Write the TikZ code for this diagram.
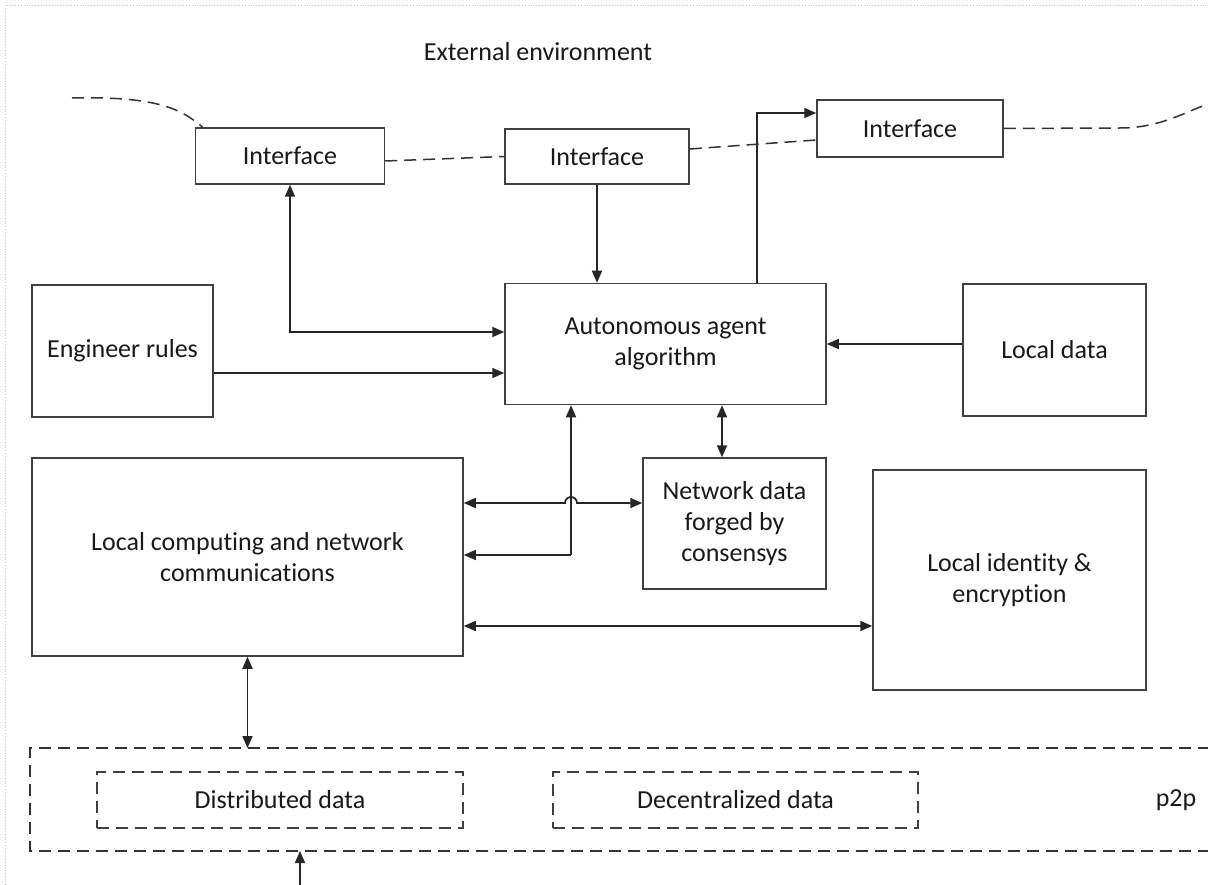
\documentclass[tikz,border=0pt]{standalone}
\usepackage{fontspec}
\setmainfont{Carlito}[Ligatures={NoCommon}]
\usetikzlibrary{arrows.meta}
\begin{document}
\begin{tikzpicture}[x=1pt,y=-1pt,
  every node/.style={font=\fontsize{26}{31}\selectfont, text=black!90},
  blk/.style={draw=black!75, line width=1.5pt, align=center, inner sep=0pt},
  dblk/.style={blk, dash pattern=on 12pt off 7pt},
  ln/.style={draw=black!85, line width=1.7pt},
  arr/.style={ln, -{Triangle[length=12pt,width=10pt]}},
  darr/.style={ln, {Triangle[length=12pt,width=10pt]}-{Triangle[length=12pt,width=10pt]}},
  dsh/.style={draw=black!80, line width=1.5pt, dash pattern=on 12pt off 7pt}]
\useasboundingbox (0,0) rectangle (1208,885);
\fill[white] (0,0) rectangle (1208,885);
% faint dotted page border
\draw[black!25, line width=0.8pt, dotted] (5,885) -- (5,5) -- (1208,5);

% nodes
\node (ext) at (538,52) {External environment};
\node[blk, minimum width=189pt, minimum height=56pt] (if1) at (290,156) {Interface};
\node[blk, minimum width=184pt, minimum height=55pt] (if2) at (597,156.5) {Interface};
\node[blk, minimum width=186pt, minimum height=57pt] (if3) at (910,128.5) {Interface};
\node[blk, minimum width=181pt, minimum height=132pt] (eng) at (122.5,351) {Engineer rules};
\node[blk, minimum width=321pt, minimum height=121pt] (agent) at (665.5,344) {Autonomous agent\\algorithm};
\node[blk, minimum width=183pt, minimum height=132pt] (ldata) at (1054.5,350) {Local data};
\node[blk, minimum width=431pt, minimum height=198pt] (lcomp) at (247.5,557) {Local computing and network\\communications};
\node[blk, minimum width=183pt, minimum height=131pt] (ndata) at (734.5,523.5) {Network data\\forged by\\consensys};
\node[blk, minimum width=273pt, minimum height=220pt] (lid) at (1009.5,580) {Local identity \&\\encryption};
\node[dblk, minimum width=366pt, minimum height=56pt] (dist) at (280,800) {Distributed data};
\node[dblk, minimum width=365pt, minimum height=56pt] (dec) at (735.5,800) {Decentralized data};
\node (p2p) at (1176,800) {p2p};

% p2p dashed container (right side cut off)
\coordinate (ptr) at (1210,748);
\coordinate (ptl) at (30,748);
\coordinate (pbl) at (30,851);
\coordinate (pbr) at (1210,851);
\draw[dsh] (ptr) -- (ptl) -- (pbl) -- (pbr);

% dashed environment boundary
\coordinate (dl0) at (72,98);
\coordinate (dr1) at (1120,128);
\coordinate (dr2) at (1208,104);
\draw[dsh] (dl0) .. controls (160,96) and (182,110) .. ([xshift=8pt]if1.north west);
\draw[dsh] ([yshift=-5pt]if1.east) -- (if2.west);
\draw[dsh] ([yshift=7.5pt]if2.east) -- ([yshift=-11.5pt]if3.west);
\draw[dsh] (if3.east) -- (dr1) .. controls (1160,128) and (1185,112) .. (dr2);

% connectors
\coordinate (a1) at ([yshift=12pt]agent.west);
\draw[darr] (if1.south) |- (a1);
\draw[arr] (if2.south) -- (if2.south|-agent.north);
\coordinate (a2) at ([xshift=91.5pt]agent.north);
\draw[arr] (a2) |- ([yshift=15.5pt]if3.west);
\coordinate (a3) at ([yshift=-29pt]agent.west);
\draw[arr] (eng.east|-a3) -- (a3);
\draw[arr] (ldata.west|-agent.east) -- (agent.east);
\coordinate (a4) at ([xshift=56.5pt]agent.south);
\draw[darr] (a4) -- (a4|-ndata.north);
\coordinate (a5) at ([xshift=-94.5pt]agent.south);
\coordinate (c5) at ([yshift=2pt]lcomp.east);
\draw[arr] (a5|-c5) -- (c5);
\draw[arr] (a5|-c5) -- (a5);
\coordinate (n1) at ([yshift=20.5pt]ndata.west);
\coordinate (j1) at ([xshift=-6pt]a5|-n1);
\draw[darr] (lcomp.east|-n1) -- (j1) arc[start angle=180, end angle=0, radius=6pt] -- (n1);
\coordinate (n2) at ([yshift=-46pt]lid.west);
\draw[darr] (lcomp.east|-n2) -- (n2);
\draw[darr] (lcomp.south) -- (lcomp.south|-ptl);
\coordinate (bot) at (300,885);
\draw[arr] (bot) -- (bot|-pbl);
\end{tikzpicture}
\end{document}
